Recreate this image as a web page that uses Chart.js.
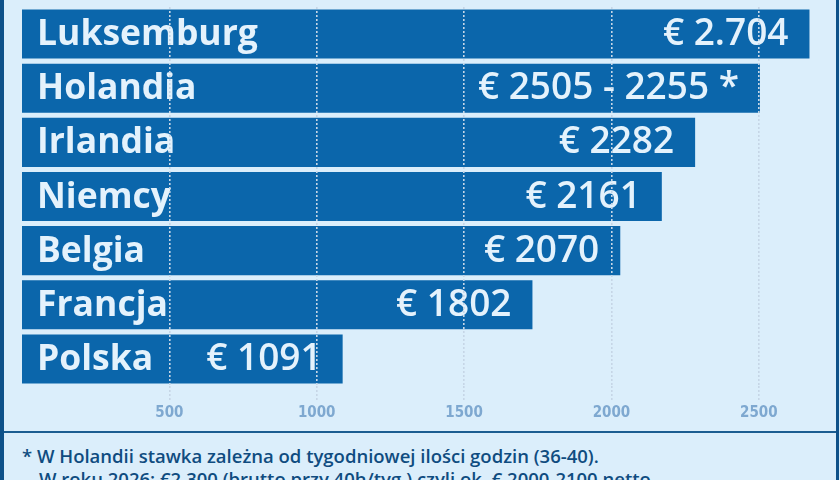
<!DOCTYPE html>
<html lang="pl">
<head>
<meta charset="utf-8">
<title>Płaca minimalna netto</title>
<script src="https://cdn.jsdelivr.net/npm/chart.js@4.4.1/dist/chart.umd.min.js"></script>
<style>
  html, body {
    margin: 0;
    padding: 0;
    width: 840px;
    height: 480px;
    overflow: hidden;
    background: #dbeefb;
  }
  .frame {
    position: absolute;
    left: 0;
    top: 0;
    width: 832px;
    height: 480px;
    border-left: 4px solid #0e5189;
    border-right: 3px solid #0e5189;
  }
  .chart-box {
    position: absolute;
    left: 0;
    top: 0;
    width: 832px;
    height: 431px;
  }
  .divider {
    position: absolute;
    left: 0;
    top: 431px;
    width: 832px;
    height: 2px;
    background: #1b5d91;
  }
  .note {
    position: absolute;
    left: 18px;
    top: 444px;
    font-family: "Open Sans", sans-serif;
    font-weight: 600;
    font-size: 18.5px;
    line-height: 23px;
    color: #0f4c80;
    white-space: nowrap;
  }
  .note .indent {
    padding-left: 17px;
  }
</style>
</head>
<body>
<div class="frame">
  <div class="chart-box"><canvas id="wageChart"></canvas></div>
  <div class="divider"></div>
  <div class="note">
    <div>* W Holandii stawka zależna od tygodniowej ilości godzin (36-40).</div>
    <div class="indent">W roku 2026: €2.300 (brutto przy 40h/tyg.) czyli ok. € 2000-2100 netto.</div>
  </div>
</div>
<script>
const countries = ["Luksemburg", "Holandia", "Irlandia", "Niemcy", "Belgia", "Francja", "Polska"];
const barValues = [2672, 2504, 2284, 2171, 2030, 1732, 1088];
const valueLabels = ["€ 2.704", "€ 2505 - 2255 *", "€ 2282", "€ 2161", "€ 2070", "€ 1802", "€ 1091"];
const tickValues = [500, 1000, 1500, 2000, 2500];
const axisMax = 2762;

const BAR_COLOR = "#0b66ab";
const TEXT_LIGHT = "#e4f2fc";
const GRID_COLOR = "#c6d6e6";

// names on the left of each bar, amounts near the bar end
const barTextPlugin = {
  id: "barText",
  afterDatasetsDraw(chart) {
    const { ctx, chartArea } = chart;
    const meta = chart.getDatasetMeta(0);
    ctx.save();
    ctx.fillStyle = TEXT_LIGHT;
    ctx.textBaseline = "alphabetic";
    meta.data.forEach((bar, i) => {
      const baseY = bar.y + 11;
      ctx.font = '700 35.5px "Open Sans", sans-serif';
      ctx.textAlign = "left";
      ctx.fillText(countries[i], chartArea.left + 15, baseY);
      ctx.font = '600 37px "Open Sans", sans-serif';
      ctx.textAlign = "right";
      ctx.fillText(valueLabels[i], bar.x - 21, baseY);
    });
    ctx.restore();
  }
};

new Chart(document.getElementById("wageChart"), {
  type: "bar",
  data: {
    labels: countries,
    datasets: [
      {
        data: barValues,
        backgroundColor: BAR_COLOR,
        borderWidth: 0,
        categoryPercentage: 1,
        barPercentage: 0.906
      }
    ]
  },
  options: {
    indexAxis: "y",
    responsive: true,
    maintainAspectRatio: false,
    animation: false,
    layout: {
      padding: { top: 7, bottom: 5, left: 18, right: 0 }
    },
    plugins: {
      legend: { display: false },
      tooltip: { enabled: false }
    },
    scales: {
      x: {
        min: 0,
        max: axisMax,
        afterBuildTicks(scale) {
          scale.ticks = tickValues.map((v) => ({ value: v }));
        },
        grid: {
          z: 1,
          color: GRID_COLOR,
          lineWidth: 1.6,
          tickLength: 14,
          tickColor: GRID_COLOR,
          borderDash: [2, 2],
          tickBorderDash: [2, 2]
        },
        border: { display: false, dash: [2, 2] },
        ticks: {
          color: "#7ea8d0",
          padding: 4,
          callback: (value) => String(value),
          font: { family: '"Liberation Sans Narrow", "DejaVu Sans Condensed", sans-serif', size: 15, weight: "bold" }
        }
      },
      y: {
        display: false,
        grid: { display: false }
      }
    }
  },
  plugins: [barTextPlugin]
});
</script>
</body>
</html>
